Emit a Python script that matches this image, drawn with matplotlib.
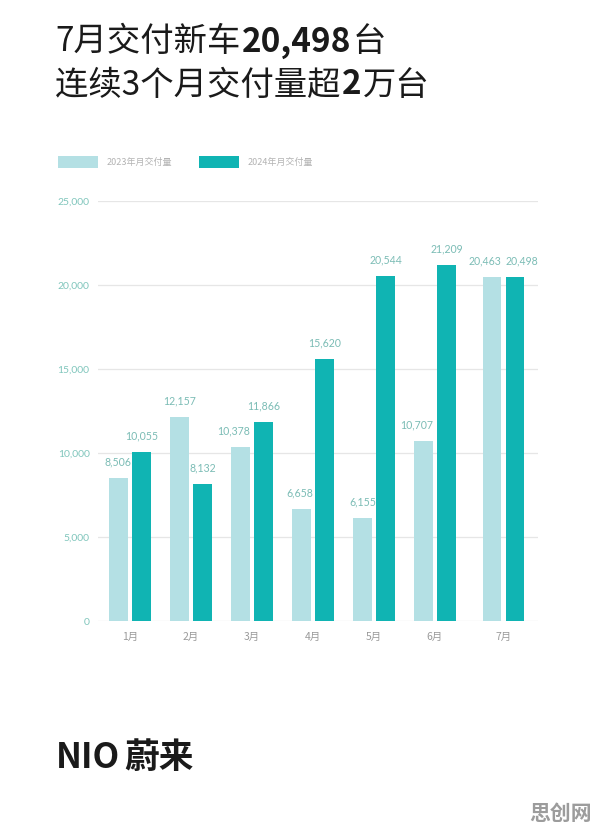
import numpy as np
import matplotlib
matplotlib.use("Agg")
import matplotlib.pyplot as plt
from matplotlib.offsetbox import TextArea, HPacker, AnchoredOffsetbox

plt.rcParams['font.family'] = ['Noto Sans CJK SC', 'DejaVu Sans']

months = ["1月", "2月", "3月", "4月", "5月", "6月", "7月"]
deliv_2023 = [8506, 12157, 10378, 6658, 6155, 10707, 20463]
deliv_2024 = [10055, 8132, 11866, 15620, 20544, 21209, 20498]
legend_labels = ["2023年月交付量", "2024年月交付量"]
yticks = [0, 5000, 10000, 15000, 20000, 25000]

c_light = "#b4e0e4"
c_dark = "#10b4b3"
c_val = "#7bbcb5"
c_tick = "#80c6bc"
c_month = "#9a9a9a"

fig = plt.figure(figsize=(5.96, 8.31), dpi=100)
ax = fig.add_axes([0.1644, 0.2527, 0.7383, 0.5054])

x = np.arange(len(months), dtype=float)
x[-1] += 0.12  # last group sits a little further right
w = 0.3
off = 0.19
b1 = ax.bar(x - off, deliv_2023, w, color=c_light, label=legend_labels[0], zorder=2)
b2 = ax.bar(x + off, deliv_2024, w, color=c_dark, label=legend_labels[1], zorder=2)

# small sideways nudges (points) so neighbouring labels don't collide
nudge_2023 = [0, 0, -5, -1, 0, -5, -5]
nudge_2024 = [0, 0, 0, 0, 0, 0, 5]

for bars, vals, nudge in ((b1, deliv_2023, nudge_2023), (b2, deliv_2024, nudge_2024)):
    for r, v, dx in zip(bars, vals, nudge):
        ax.annotate(f"{v:,}", (r.get_x() + r.get_width() / 2, v),
                    xytext=(dx, 9), textcoords="offset points",
                    ha="center", va="baseline", fontsize=7.6, color=c_val,
                    family=["Lato", "DejaVu Sans"])

ax.set_xlim(-0.525, 6.69)
ax.set_ylim(0, 25000)
ax.set_yticks(yticks)
ax.set_yticklabels([f"{t:,}" for t in yticks], color=c_tick, fontsize=7.5,
                   family=["Lato", "DejaVu Sans"])
ax.set_xticks(x)
ax.set_xticklabels(months, color=c_month, fontsize=7.5)
ax.tick_params(axis="both", length=0)
ax.tick_params(axis="y", pad=6)
ax.tick_params(axis="x", pad=8)
ax.grid(axis="y", color="#e6e6e6", linewidth=0.9, zorder=0)
for s in ax.spines.values():
    s.set_visible(False)

ax.legend(loc="lower left", bbox_to_anchor=(58 / 596, 1 - 168 / 831),
          bbox_transform=fig.transFigure, ncol=2, frameon=False,
          fontsize=6.5, handlelength=4.4, handleheight=1.6, handletextpad=1.0,
          columnspacing=3.0, borderaxespad=0, borderpad=0,
          labelcolor="#b3b3b3")


def hline(parts, size, x0, y, sep=1):
    boxes = [TextArea(t, textprops=dict(fontsize=size, color="#1a1a1a",
                                        fontweight="bold" if b else "normal"))
             for t, b in parts]
    pack = HPacker(children=boxes, align="baseline", pad=0, sep=sep)
    ab = AnchoredOffsetbox(loc="center left", child=pack, pad=0, frameon=False,
                           bbox_to_anchor=(x0, y), bbox_transform=fig.transFigure,
                           borderpad=0)
    fig.add_artist(ab)


hline([("7月交付新车", False), ("20,498", True), ("台", False)], 24, 55 / 596, 1 - 42 / 831)
hline([("连续3个月交付量超", False), ("2", True), ("万台", False)], 24, 55 / 596, 1 - 85 / 831)

hline([("NIO", True), ("蔚来", True)], 25, 56 / 596, 1 - 757 / 831, sep=3)

fig.text(592 / 596, 1 - 813 / 831, "思创网", fontsize=15, fontweight="bold",
         color="#9c9c9c", va="center", ha="right")

fig.savefig("out.png", dpi=100)
